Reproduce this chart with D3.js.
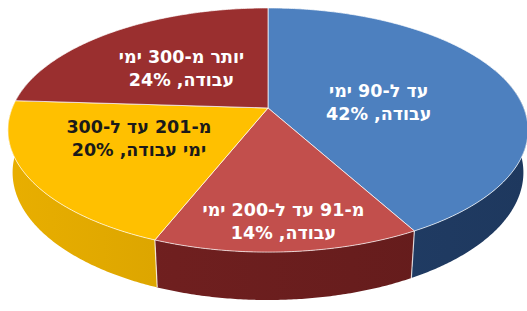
<!DOCTYPE html>
<html><head><meta charset="utf-8">
<script src="https://cdn.jsdelivr.net/npm/d3@7"></script>
<style>html,body{margin:0;padding:0;background:#fff;}svg{display:block;}</style>
</head><body>
<svg id="chart" width="527" height="311"></svg>
<script>
// ---- data ----
const categories = ["עד ל-90 ימי עבודה", "מ-91 עד ל-200 ימי עבודה", "מ-201 עד ל-300 ימי עבודה", "יותר מ-300 ימי עבודה"];
const values = [42, 14, 20, 24];
const labelLines = [
  ["עד ל-90 ימי", "עבודה, 42%"],
  ["מ-91 עד ל-200 ימי", "עבודה, 14%"],
  ["מ-201 עד ל-300", "ימי עבודה, 20%"],
  ["יותר מ-300 ימי", "עבודה, 24%"]
];
const topColors = ["#4d80bf", "#c24f4c", "#ffc000", "#9a2f2f"];
const sideColors = ["#22406a", "#6e1f1f", "#d9a300", "#5a1a1a"];
const textColors = ["#ffffff", "#ffffff", "#1a1a1a", "#ffffff"];
// label placement (layout): fraction along slice angle, radius fraction
const labelFrac = [0.55, 0.5, 0.58, 0.48];
const labelRad = [0.44, 0.82, 0.54, 0.51];

// ---- projection (perspective 3D pie) ----
const W = 527, H = 311;
const cx = 268, cy = 108;
const alpha = 27.5 * Math.PI / 180, sA = Math.sin(alpha), cA = Math.cos(alpha);
const D = 4.918, f = 1258, h = 0.188;
function proj(theta, r, yw) {
  const X = r * Math.sin(theta), Z = -r * Math.cos(theta);
  const depth = D - Z * cA + yw * sA;
  const yc = Z * sA + yw * cA;
  return [cx + f * X / depth, cy + f * yc / depth, depth];
}

const svg = d3.select("#chart");
const defs = svg.append("defs");
const pie = d3.pie().sort(null).value(d => d)(values);
const line = d3.line();
const step = Math.PI / 360;

function arcPts(a0, a1, yw) {
  const pts = [];
  const n = Math.max(2, Math.ceil((a1 - a0) / step));
  for (let i = 0; i <= n; i++) {
    const t = a0 + (a1 - a0) * i / n;
    const p = proj(t, 1, yw);
    pts.push([p[0], p[1]]);
  }
  return pts;
}

// gradients for walls
sideColors.forEach((c, i) => {
  const g = defs.append("linearGradient").attr("id", "side" + i)
    .attr("gradientUnits", "userSpaceOnUse").attr("x1", 0).attr("y1", 0).attr("x2", W).attr("y2", 0);
  g.append("stop").attr("offset", "0%").attr("stop-color", d3.color(c).brighter(0.2).formatHex());
  g.append("stop").attr("offset", "100%").attr("stop-color", d3.color(c).darker(0.35).formatHex());
});

// walls (front-facing range only; back parts are hidden by tops)
const lo = 70 * Math.PI / 180, hi = 290 * Math.PI / 180;
const walls = [];
pie.forEach((d, i) => {
  const a0 = Math.max(d.startAngle, lo), a1 = Math.min(d.endAngle, hi);
  if (a1 > a0) {
    const pts = arcPts(a0, a1, 0).concat(arcPts(a0, a1, h).reverse());
    walls.push({pts, i});
  }
});
svg.append("g").selectAll("path").data(walls).join("path")
  .attr("d", w => line(w.pts) + "Z")
  .attr("fill", w => `url(#side${w.i})`);

// light edges on wall at slice boundaries (front-facing)
pie.forEach(d => {
  const t = d.startAngle;
  if (-Math.cos(t) > 0.05) {
    const a = proj(t, 1, 0), b = proj(t, 1, h);
    svg.append("line").attr("x1", a[0]).attr("y1", a[1]).attr("x2", b[0]).attr("y2", b[1])
      .attr("stroke", "rgba(255,255,255,0.75)").attr("stroke-width", 1.2);
  }
});

// top surfaces
const center = proj(0, 0, 0);
const tops = pie.map((d, i) => {
  const pts = [[center[0], center[1]]].concat(arcPts(d.startAngle, d.endAngle, 0));
  return {pts, i};
});
svg.append("g").selectAll("path").data(tops).join("path")
  .attr("d", t => line(t.pts) + "Z")
  .attr("fill", t => topColors[t.i])
  .attr("stroke", "rgba(255,255,255,0.7)")
  .attr("stroke-width", 1)
  .attr("stroke-linejoin", "round");

// labels
const lg = svg.append("g");
pie.forEach((d, i) => {
  const t = d.startAngle + (d.endAngle - d.startAngle) * labelFrac[i];
  const c = proj(t, labelRad[i], 0);
  const txt = lg.append("text")
    .attr("x", c[0]).attr("y", c[1])
    .attr("direction", "rtl")
    .attr("text-anchor", "middle")
    .attr("font-family", "'DejaVu Sans', Verdana, sans-serif")
    .attr("font-weight", "bold")
    .attr("font-size", 17.5)
    .attr("fill", textColors[i]);
  labelLines[i].forEach((ln, k) => {
    txt.append("tspan").attr("x", c[0]).attr("y", c[1] - 5 + k * 23).text(ln);
  });
});
</script>
</body></html>
